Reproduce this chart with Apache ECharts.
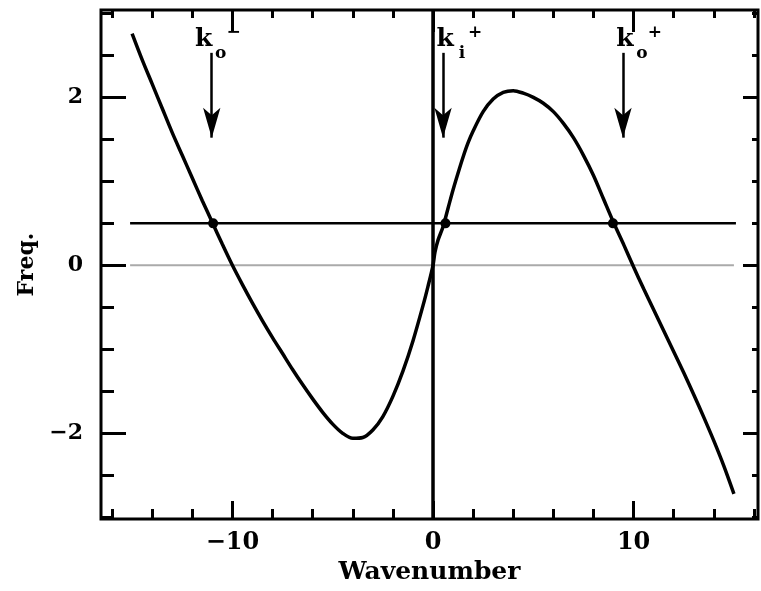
<!DOCTYPE html>
<html>
<head>
<meta charset="utf-8">
<script src="https://cdn.jsdelivr.net/npm/echarts@6/dist/echarts.min.js"></script>
<style>
  html, body { margin: 0; padding: 0; background: #fff; }
  #chart { width: 761px; height: 591px; }
</style>
</head>
<body>
<div id="chart"></div>
<script>
// dispersion curve
const waveK = [
  -15, -14.5, -14, -13.5, -13, -12.5, -12, -11.5, -11, -10.5,
  -10, -9.5, -9, -8.5, -8, -7.5, -7, -6.5, -6, -5.5,
  -5, -4.5, -4, -3.5, -3, -2.5, -2, -1.5, -1, -0.5,
  -0.25, 0, 0.1, 0.25, 0.5, 0.75, 1, 1.25, 1.5, 1.75,
  2, 2.5, 3, 3.5, 4, 4.5, 5, 5.5, 6, 6.5,
  7, 7.5, 8, 8.5, 9, 9.5, 10, 10.5, 11, 11.5,
  12, 12.5, 13, 13.5, 14, 14.5, 15
]
const freq = [
  2.76, 2.45, 2.16, 1.87, 1.58, 1.31, 1.04, 0.77, 0.51, 0.25,
  0.0, -0.23, -0.45, -0.66, -0.86, -1.05, -1.24, -1.42, -1.59, -1.75,
  -1.89, -2.00, -2.06, -2.05, -1.96, -1.80, -1.56, -1.26, -0.90, -0.48,
  -0.25, 0, 0.16, 0.30, 0.46, 0.68, 0.90, 1.10, 1.29, 1.46,
  1.60, 1.83, 1.98, 2.06, 2.08, 2.05, 2.00, 1.93, 1.83, 1.69,
  1.52, 1.31, 1.07, 0.79, 0.51, 0.25, -0.02, -0.28, -0.53, -0.78,
  -1.03, -1.28, -1.54, -1.81, -2.09, -2.39, -2.72
]
const freqLevel = 0.5
const levelSpan = [-15.1, 15.1]
const zeroSpan = [-15.1, 15.0]
const crossings = [-10.96, 0.62, 8.97]

// arrows and their labels
const arrowK = [-11.03, 0.5, 9.47]
const arrowTop = 2.53
const arrowTip = 1.52
const labelSub = ['o', 'i', 'o']
const labelSup = ['\u2212', '+', '+']

// axis ticks
const xMajor = [-10, 0, 10]
const xMinor = [-16, -14, -12, -8, -6, -4, -2, 2, 4, 6, 8, 12, 14, 16]
const yMajor = [-2, 0, 2]
const yMinor = [-3, -2.5, -1.5, -1, -0.5, 0.5, 1, 1.5, 2.5, 3]

const X_MIN = -16.55, X_MAX = 16.2
const Y_MIN = -3.02, Y_MAX = 3.04
const FONT = 'DejaVu Serif'
const minus = v => String(v).replace('-', '\u2212')

const chart = echarts.init(document.getElementById('chart'))

const tickAxis = (pos, values, len, extra) => Object.assign({
  type: 'value',
  min: pos === 'left' || pos === 'right' ? Y_MIN : X_MIN,
  max: pos === 'left' || pos === 'right' ? Y_MAX : X_MAX,
  position: pos,
  offset: 0,
  axisLine: { show: false, onZero: false },
  splitLine: { show: false },
  axisTick: {
    show: true,
    inside: true,
    length: len,
    customValues: values,
    lineStyle: { color: '#000', width: 3 }
  },
  axisLabel: { show: false }
}, extra || {})

// label offsets (px) relative to the arrow top
const kShift = [-8, 2, 2]
const labelItems = []
arrowK.forEach((k, i) => {
  const dx = kShift[i]
  const base = { color: '#000', fontFamily: FONT, fontWeight: 'bold' }
  labelItems.push({ value: [k, arrowTop], label: Object.assign({ formatter: 'k', offset: [dx, -13], fontSize: 25 }, base) })
  labelItems.push({ value: [k, arrowTop], label: Object.assign({ formatter: labelSub[i], offset: [dx + 17, 1], fontSize: 17 }, base) })
  labelItems.push({ value: [k, arrowTop], label: Object.assign({ formatter: labelSup[i], offset: [dx + 30, -20], fontSize: 17 }, base) })
})

const option = {
  animation: false,
  grid: {
    left: 101, right: 3, top: 10, bottom: 72,
    show: true, borderColor: '#000', borderWidth: 3, backgroundColor: 'transparent'
  },
  xAxis: [
    tickAxis('bottom', xMajor, 18, {
      axisLabel: {
        show: true, customValues: xMajor, margin: 12, formatter: minus,
        color: '#000', fontFamily: FONT, fontWeight: 'bold', fontSize: 24
      },
      name: 'Wavenumber', nameLocation: 'middle', nameGap: 40,
      nameTextStyle: { color: '#000', fontFamily: FONT, fontWeight: 'bold', fontSize: 25 }
    }),
    tickAxis('bottom', xMinor, 10),
    tickAxis('top', xMajor, 22),
    tickAxis('top', xMinor, 8)
  ],
  yAxis: [
    tickAxis('left', yMajor, 25, {
      axisLabel: {
        show: true, customValues: yMajor, margin: 18, formatter: minus,
        color: '#000', fontFamily: FONT, fontWeight: 'bold', fontSize: 22
      },
      name: 'Freq.', nameLocation: 'middle', nameGap: 47,
      nameTextStyle: { color: '#000', fontFamily: FONT, fontWeight: 'bold', fontSize: 22 }
    }),
    tickAxis('left', yMinor, 13),
    tickAxis('right', yMajor, 15),
    tickAxis('right', yMinor, 6)
  ],
  series: [
    {
      name: 'zero',
      type: 'line',
      data: zeroSpan.map(k => [k, 0]),
      showSymbol: false,
      lineStyle: { color: '#aaa', width: 2 },
      z: 1
    },
    {
      name: 'level',
      type: 'line',
      data: levelSpan.map(k => [k, freqLevel]),
      showSymbol: false,
      lineStyle: { color: '#000', width: 2.5 },
      z: 2
    },
    {
      name: 'k0',
      type: 'line',
      data: [[0, Y_MIN], [0, Y_MAX]],
      showSymbol: false,
      lineStyle: { color: '#000', width: 3.5 },
      z: 3
    },
    {
      name: 'dispersion',
      type: 'line',
      data: waveK.map((k, i) => [k, freq[i]]),
      smooth: 0.3,
      showSymbol: false,
      lineStyle: { color: '#000', width: 3.5 },
      z: 4
    },
    {
      name: 'crossings',
      type: 'scatter',
      data: crossings.map(k => [k, freqLevel]),
      symbolSize: 10,
      itemStyle: { color: '#000', opacity: 1 },
      z: 5
    },
    {
      name: 'arrows',
      type: 'line',
      data: [],
      markLine: {
        silent: true,
        symbol: ['none', 'arrow'],
        symbolSize: [13, 30],
        label: { show: false },
        lineStyle: { color: '#000', width: 2.5, type: 'solid' },
        data: arrowK.map(k => [{ coord: [k, arrowTop] }, { coord: [k, arrowTip] }])
      }
    },
    {
      name: 'labels',
      type: 'scatter',
      symbolSize: 0,
      data: labelItems,
      itemStyle: { opacity: 1 },
      label: {
        show: true,
        position: 'inside',
        color: '#000',
        fontFamily: FONT,
        fontWeight: 'bold'
      },
      z: 6
    }
  ]
}

chart.setOption(option)
</script>
</body>
</html>
